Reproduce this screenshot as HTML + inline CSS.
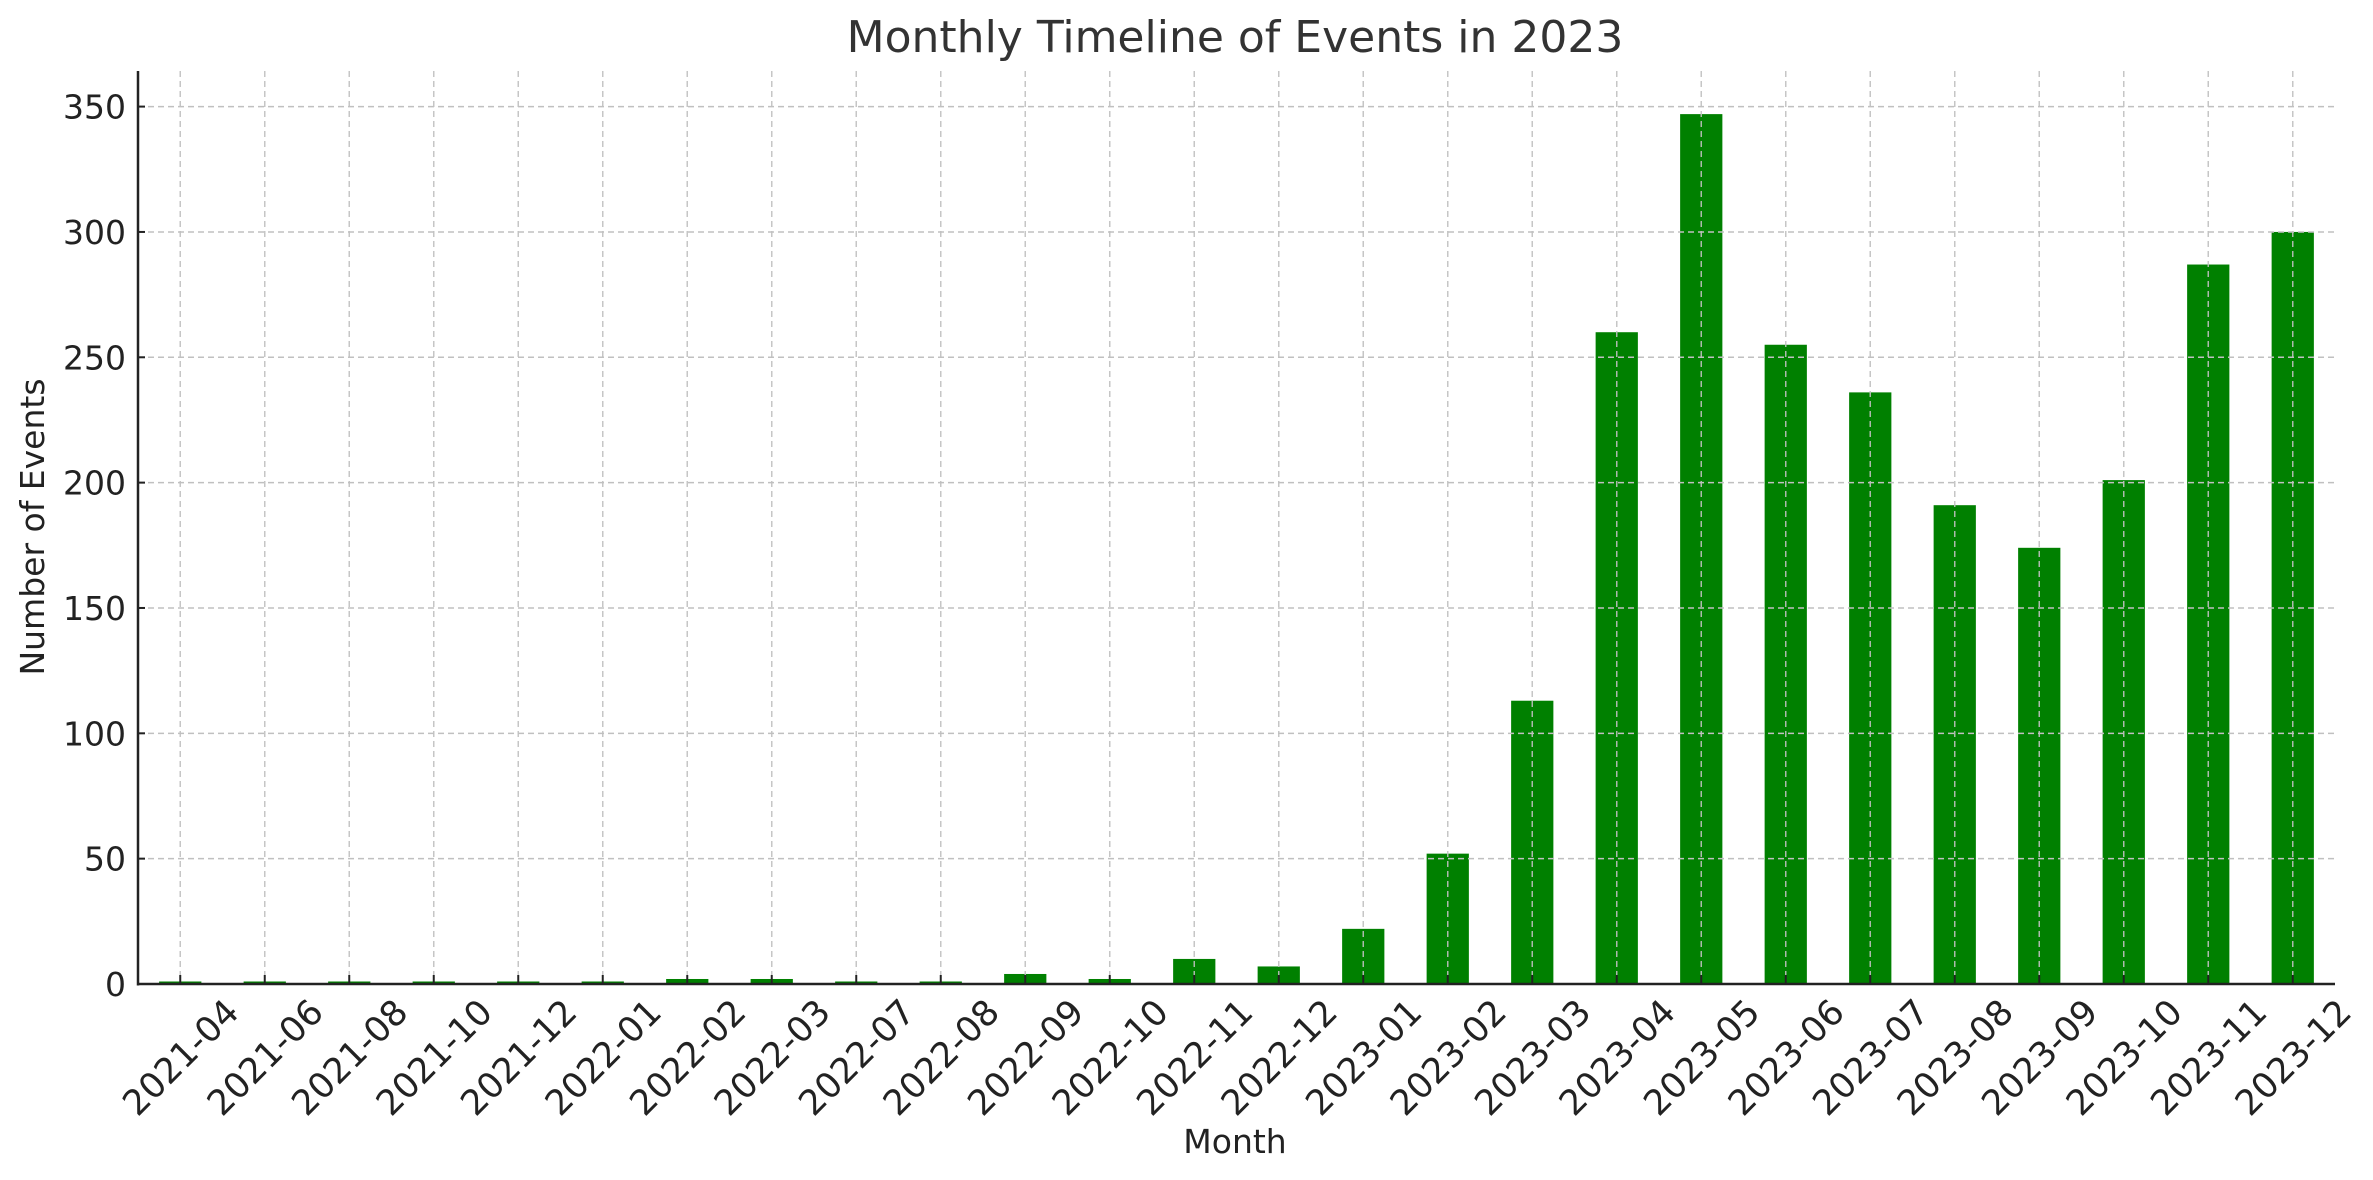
<!DOCTYPE html>
<html><head><meta charset="utf-8"><style>
html,body{margin:0;padding:0;background:#fff;}
svg{display:block;font-family:"DejaVu Sans","Liberation Sans",sans-serif;}
</style></head><body>
<svg id="chart" width="2373" height="1180" viewBox="0 0 2373 1180">
<text x="1235" y="52" text-anchor="middle" font-size="44" fill="#333">Monthly Timeline of Events in 2023</text>
<g id="grid"></g>
<g id="bars"></g>
<g id="axes"></g>
<text x="1235" y="1153" text-anchor="middle" font-size="33" fill="#222">Month</text>
<text transform="translate(44,527) rotate(-90)" text-anchor="middle" font-size="33" fill="#222">Number of Events</text>
</svg>
<script>
const categories = ["2021-04","2021-06","2021-08","2021-10","2021-12","2022-01","2022-02","2022-03","2022-07","2022-08","2022-09","2022-10","2022-11","2022-12","2023-01","2023-02","2023-03","2023-04","2023-05","2023-06","2023-07","2023-08","2023-09","2023-10","2023-11","2023-12"];
const values = [1,1,1,1,1,1,2,2,1,1,4,2,10,7,22,52,113,260,347,255,236,191,174,201,287,300];
const yTicks = [0,50,100,150,200,250,300,350];

const NS = "http://www.w3.org/2000/svg";
const L = 138, R = 2335, T = 71, B = 984;
const yMax = 364.2;
function xPos(i){ return L + (i + 0.5) * (R - L) / categories.length; }
function yPos(v){ return B - v * (B - T) / yMax; }
const bw = 0.5 * (R - L) / categories.length;
function mk(tag, attrs, parent){ const e = document.createElementNS(NS, tag); for (const k in attrs) e.setAttribute(k, attrs[k]); parent.appendChild(e); return e; }

const grid = document.getElementById('grid'), bars = document.getElementById('bars'), axes = document.getElementById('axes');
yTicks.forEach(t => {
  const y = yPos(t);
  const g = mk('line', {x1:L, x2:R, y1:y, y2:y, stroke:'#c0c0c0', 'stroke-width':1.5, 'stroke-dasharray':'6,4'}, grid);
  
  
  const tk = mk('line', {x1:L, x2:L+7, y1:y, y2:y, stroke:'#222', 'stroke-width':2}, axes);
  
  
  const lb = mk('text', {x:L-12, y:y+12, 'text-anchor':'end', 'font-size':33, fill:'#222'}, axes);
  lb.textContent = t;
  
  
});
categories.forEach((c, i) => {
  const x = xPos(i);
  const b = mk('rect', {x:x-bw/2, y:yPos(values[i]), width:bw, height:B-yPos(values[i]), fill:'#008000'}, bars);
  
  
  const g = mk('line', {x1:x, x2:x, y1:T, y2:B, stroke:'#c0c0c0', 'stroke-width':1.5, 'stroke-dasharray':'6,4', opacity:0.9}, grid);
  
  
  const tk = mk('line', {x1:x, x2:x, y1:B, y2:B-9, stroke:'#222', 'stroke-width':2}, axes);
  
  
  const lb = mk('text', {transform:'translate(' + x + ',' + (B+73) + ') rotate(-45)', dy:'0.36em', 'text-anchor':'middle', 'font-size':35, fill:'#222'}, axes);
  lb.textContent = c;
  
  
});
document.getElementById('chart').insertBefore(bars, grid);
const ax1 = mk('line', {x1:L, x2:L, y1:T, y2:B+1.5, stroke:'#222', 'stroke-width':2.5}, axes);


const ax2 = mk('line', {x1:L-1, x2:R, y1:B, y2:B, stroke:'#222', 'stroke-width':2.5}, axes);


</script>
</body></html>
